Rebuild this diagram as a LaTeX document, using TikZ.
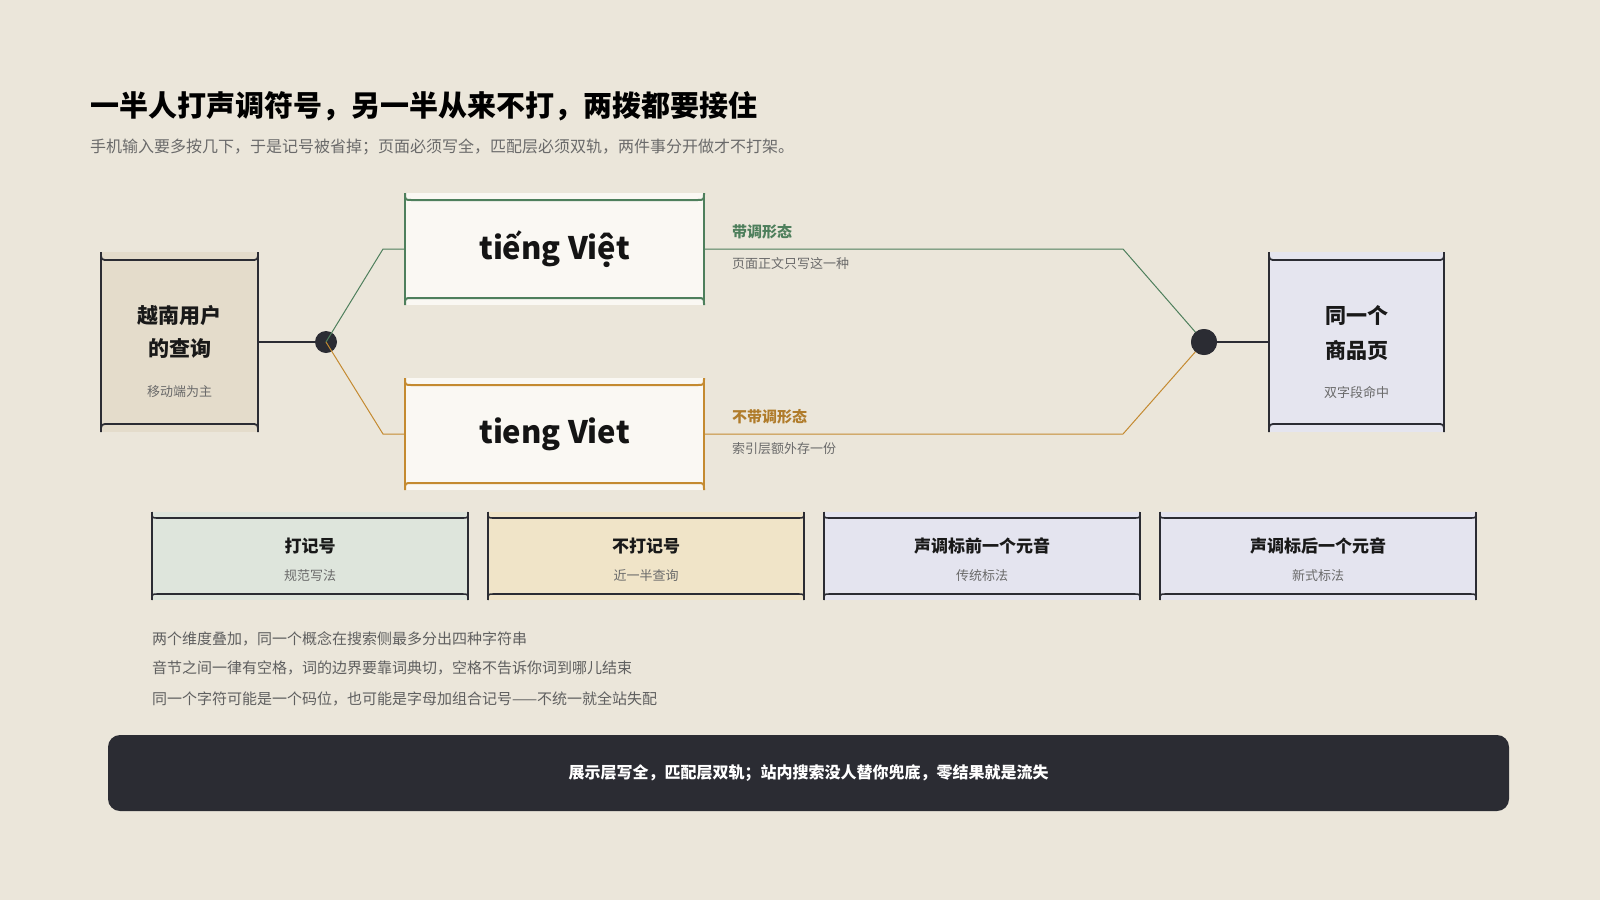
\documentclass[tikz,border=0pt]{standalone}
\usepackage{fontspec}
\setmainfont{Noto Sans CJK SC}
\usetikzlibrary{calc}
\definecolor{bg}{HTML}{EBE6DA}
\definecolor{ink}{HTML}{2B2C33}
\definecolor{grn}{HTML}{4E7F5C}
\definecolor{org}{HTML}{C48A30}
\definecolor{qfill}{HTML}{E4DCCB}
\definecolor{pfill}{HTML}{E5E5EF}
\definecolor{vfill}{HTML}{FAF8F3}
\definecolor{gfill}{HTML}{DEE5DC}
\definecolor{tfill}{HTML}{F0E4C8}
\definecolor{lfill}{HTML}{E4E4EF}
\definecolor{subgray}{HTML}{6A6A6A}
\definecolor{notegray}{HTML}{5F5F5F}
\newcommand\scrollframe[5]{% node, colour, vertical lw, horizontal lw, inset
  \draw[#2, line width=#3] (#1.north west) -- (#1.south west) (#1.north east) -- (#1.south east);
  \draw[#2, line width=#4, line join=round]
    (#1.north west) .. controls ($(#1.north west)+(0,#5)$) .. ($(#1.north west)+(#5,#5)$)
    -- ($(#1.north east)+(-#5,#5)$) .. controls ($(#1.north east)+(0,#5)$) .. (#1.north east);
  \draw[#2, line width=#4, line join=round]
    (#1.south west) .. controls ($(#1.south west)+(0,-#5)$) .. ($(#1.south west)+(#5,-#5)$)
    -- ($(#1.south east)+(-#5,-#5)$) .. controls ($(#1.south east)+(0,-#5)$) .. (#1.south east);
}
\begin{document}
\begin{tikzpicture}[x=1pt,y=-1pt,
  boxn/.style={draw=none, inner sep=0, outer sep=0},
  txt/.style={inner sep=0, outer sep=0, anchor=base},
  ttl/.style={txt, font=\bfseries\fontsize{29}{34}\selectfont, text=black, anchor=base west},
  stl/.style={txt, font=\fontsize{16}{19}\selectfont, text=subgray, anchor=base west},
  bigt/.style={txt, font=\bfseries\fontsize{21}{25}\selectfont, text=black!90},
  smallt/.style={txt, font=\fontsize{13}{16}\selectfont, text=subgray},
  viett/.style={txt, font=\bfseries\fontsize{31}{36}\selectfont, text=black!92},
  lab/.style={txt, font=\bfseries\fontsize{15}{18}\selectfont, anchor=base west},
  labsub/.style={txt, font=\fontsize{13}{16}\selectfont, text=subgray, anchor=base west},
  cardt/.style={txt, font=\bfseries\fontsize{17}{20}\selectfont, text=black!90},
  note/.style={txt, font=\fontsize{15}{18}\selectfont, text=notegray, anchor=base west},
  conn/.style={line width=1pt},
  dot/.style={circle, fill=ink, inner sep=0, outer sep=0}
]
\useasboundingbox[fill=bg] (0,0) rectangle (1600,900);

% title
\node[ttl] (title) at (90,116) {一半人打声调符号，另一半从来不打，两拨都要接住};
\node[stl] (subtitle) at (90,152) {手机输入要多按几下，于是记号被省掉；页面必须写全，匹配层必须双轨，两件事分开做才不打架。};

% boxes
\node[boxn, fill=qfill, minimum width=157, minimum height=180] (qry) at (179.5,342) {};
\node[boxn, fill=pfill, minimum width=175, minimum height=180] (page) at (1356.5,342) {};
\node[boxn, fill=vfill, minimum width=299, minimum height=112] (v1) at (554.5,249) {};
\node[boxn, fill=vfill, minimum width=299, minimum height=112] (v2) at (554.5,434) {};

% junctions
\node[dot, minimum size=22] (j1) at (326,342) {};
\node[dot, minimum size=26] (j2) at (1204,342) {};
\coordinate (g1) at (383,249);
\coordinate (o1) at (383,434);
\coordinate (g2) at (1123,249);
\coordinate (o2) at (1123,434);

\draw[ink, line width=1.4pt] (qry.east) -- (j1.center);
\draw[grn, conn] (j1.center) -- (g1) -- (v1.west);
\draw[org, conn] (j1.center) -- (o1) -- (v2.west);
\draw[grn, conn] (v1.east) -- (g2) -- (j2.center);
\draw[org, conn] (v2.east) -- (o2) -- (j2.center);
\node[dot, minimum size=26] at (j2) {};
\draw[ink, line width=1.4pt] (j2.center) -- (page.west);

\scrollframe{qry}{ink}{1.6pt}{1.8pt}{8}
\scrollframe{page}{ink}{1.6pt}{1.8pt}{8}
\scrollframe{v1}{grn}{1.2pt}{2pt}{7}
\scrollframe{v2}{org}{1.2pt}{2pt}{7}

% box texts
\node[bigt] (q1) at (179.5,323) {越南用户};
\node[bigt] (q2) at (179.5,356) {的查询};
\node[smallt] (q3) at (179.5,396) {移动端为主};
\node[bigt] (p1) at (1356.5,323) {同一个};
\node[bigt] (p2) at (1356.5,358) {商品页};
\node[smallt] (p3) at (1356.5,397) {双字段命中};
\node[viett] (vt1) at (554.5,259) {tiếng Việt};
\node[viett] (vt2) at (554.5,443) {tieng Viet};

% branch labels
\node[lab, text=grn] (l1) at (732,237) {带调形态};
\node[labsub] (l1s) at (732,268) {页面正文只写这一种};
\node[lab, text=org!90!black] (l2) at (732,422) {不带调形态};
\node[labsub] (l2s) at (732,453) {索引层额外存一份};

% cards
\foreach \n/\cx/\fc/\ta/\tb in {c1/310/gfill/打记号/规范写法, c2/646/tfill/不打记号/近一半查询, c3/982/lfill/声调标前一个元音/传统标法, c4/1318/lfill/声调标后一个元音/新式标法}{
  \node[boxn, fill=\fc, minimum width=316, minimum height=88] (\n) at (\cx,556) {};
  \scrollframe{\n}{ink}{1.4pt}{1.6pt}{6}
  \node[cardt] (\n t) at (\cx,552.5) {\ta};
  \node[smallt] (\n s) at (\cx,580) {\tb};
}

% notes
\node[note] (n1) at (152,644) {两个维度叠加，同一个概念在搜索侧最多分出四种字符串};
\node[note] (n2) at (152,673) {音节之间一律有空格，词的边界要靠词典切，空格不告诉你词到哪儿结束};
\node[note] (n3) at (152,704) {同一个字符可能是一个码位，也可能是字母加组合记号——不统一就全站失配};

% bar
\node[boxn, fill=ink, rounded corners=12pt, minimum width=1401, minimum height=76] (bar) at (808.5,773) {};
\node[txt, font=\bfseries\fontsize{16}{19}\selectfont, text=white] (bart) at (808.5,778) {展示层写全，匹配层双轨；站内搜索没人替你兜底，零结果就是流失};
\end{tikzpicture}
\end{document}
